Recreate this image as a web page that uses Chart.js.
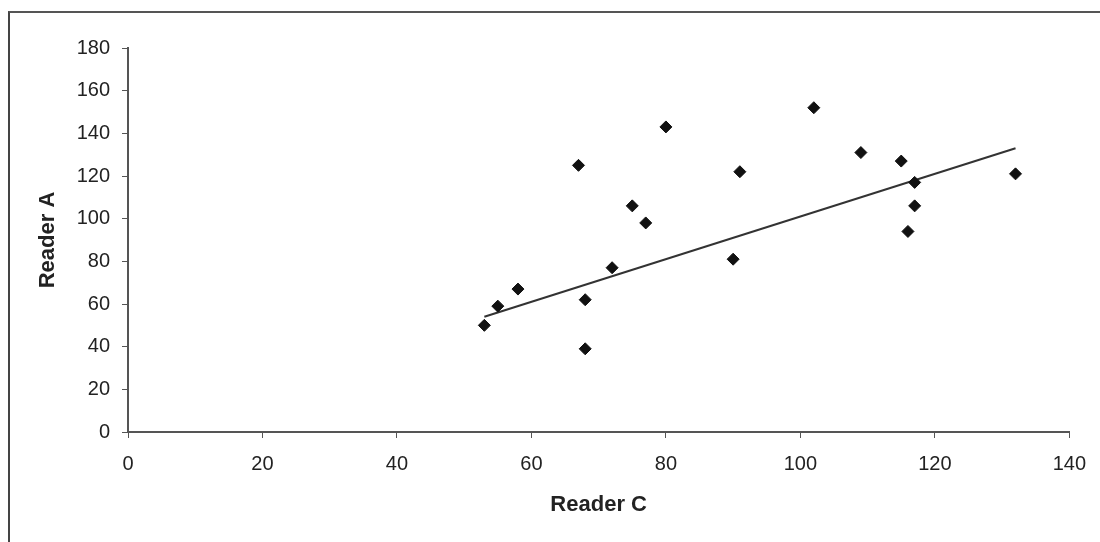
<!DOCTYPE html>
<html>
<head>
<meta charset="utf-8">
<script src="https://cdn.jsdelivr.net/npm/chart.js@4/dist/chart.umd.min.js"></script>
<style>
  body { margin: 0; background: #fff; }
  #wrap { position: relative; width: 1100px; height: 542px; }
  #frame { position: absolute; left: 8px; top: 11px; width: 1100px; height: 540px;
           border-left: 2px solid #444; border-top: 2px solid #555; pointer-events: none; }
</style>
</head>
<body>
<div id="wrap">
  <canvas id="myChart" width="1100" height="542"></canvas>
  <div id="frame"></div>
</div>
<script>
// Reader C (x) vs Reader A (y)
var readerC = [53, 55, 58, 67, 68, 68, 72, 75, 77, 80, 90, 91, 102, 109, 115, 117, 117, 116, 132];
var readerA = [50, 59, 67, 125, 62, 39, 77, 106, 98, 143, 81, 122, 152, 131, 127, 117, 106, 94, 121];

// linear trend line at both ends
var trendC = [53, 132];
var trendA = [54, 133];

var xTicks = [0, 20, 40, 60, 80, 100, 120, 140];
var yTicks = [0, 20, 40, 60, 80, 100, 120, 140, 160, 180];

var points = readerC.map(function (c, i) { return {x: c, y: readerA[i]}; });
var trend = trendC.map(function (c, i) { return {x: c, y: trendA[i]}; });

var tickFont = {family: 'Liberation Sans, Arial, sans-serif', size: 20};
var titleFont = {family: 'Liberation Sans, Arial, sans-serif', size: 22, weight: 'bold'};

var ctx = document.getElementById('myChart');
var chart = new Chart(ctx, {
  type: 'scatter',
  data: {
    datasets: [
      {
        label: 'Readings',
        data: points,
        pointStyle: 'rectRot',
        pointRadius: 6,
        backgroundColor: '#111',
        borderColor: '#111',
        borderWidth: 1
      },
      {
        type: 'line',
        label: 'Trend',
        data: trend,
        borderColor: '#333',
        borderWidth: 2,
        pointRadius: 0,
        fill: false
      }
    ]
  },
  options: {
    responsive: false,
    animation: false,
    layout: { padding: {left: 0, top: 48, right: 28, bottom: 0} },
    plugins: { legend: {display: false}, tooltip: {enabled: false} },
    scales: {
      x: {
        type: 'linear',
        min: 0, max: 140,
        afterBuildTicks: function (axis) { axis.ticks = xTicks.map(function (v) { return {value: v}; }); },
        afterFit: function (axis) { axis.height = 110; },
        grid: { drawOnChartArea: false, drawTicks: true, tickLength: 6, color: '#555', lineWidth: 1 },
        border: { color: '#555', width: 2 },
        ticks: { color: '#222', font: tickFont, padding: 14, maxRotation: 0 },
        title: { display: true, text: 'Reader C', color: '#222', font: titleFont, padding: {top: 0, bottom: 24} }
      },
      y: {
        type: 'linear',
        min: 0, max: 180,
        afterBuildTicks: function (axis) { axis.ticks = yTicks.map(function (v) { return {value: v}; }); },
        afterFit: function (axis) { axis.width = 128; },
        grid: { drawOnChartArea: false, drawTicks: true, tickLength: 6, color: '#555', lineWidth: 1 },
        border: { color: '#555', width: 2 },
        ticks: { color: '#222', font: tickFont, padding: 12 },
        title: { display: true, text: 'Reader A', color: '#222', font: titleFont, padding: {top: 35, bottom: 0} }
      }
    }
  }
});
</script>
</body>
</html>
